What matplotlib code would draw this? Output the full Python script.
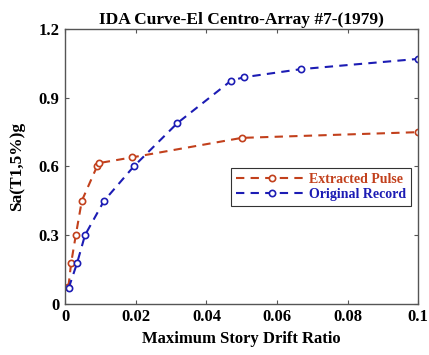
import matplotlib
matplotlib.use("Agg")
import matplotlib.pyplot as plt
from matplotlib.ticker import FixedLocator, FixedFormatter

# IDA points: maximum story drift ratio vs. Sa(T1,5%)
pulse_drift = [0.0009, 0.0017, 0.003, 0.0047, 0.009, 0.0096, 0.019, 0.050, 0.100]
pulse_sa = [0.075, 0.18, 0.30, 0.45, 0.60, 0.615, 0.64, 0.725, 0.75]

record_drift = [0.001, 0.0034, 0.0056, 0.011, 0.0194, 0.0318, 0.047, 0.0507, 0.0667, 0.100]
record_sa = [0.07, 0.18, 0.30, 0.45, 0.60, 0.79, 0.975, 0.99, 1.025, 1.07]

x_ticks = [0, 0.02, 0.04, 0.06, 0.08, 0.1]
x_labels = ["0", "0.02", "0.04", "0.06", "0.08", "0.1"]
y_ticks = [0, 0.3, 0.6, 0.9, 1.2]
y_labels = ["0", "0.3", "0.6", "0.9", "1.2"]

red = "#c2401c"
blue = "#1c1cb4"

plt.rcParams["font.family"] = ["Liberation Serif", "DejaVu Serif"]
plt.rcParams["font.weight"] = "bold"

fig = plt.figure(figsize=(4.29, 3.55), dpi=100)
ax = fig.add_axes([0.152, 0.144, 0.823, 0.774])

ax.plot(pulse_drift, pulse_sa, "--o", color=red, lw=1.5, ms=4.5,
        mfc="white", mew=1.2, dashes=(4, 3), label="Extracted Pulse")
ax.plot(record_drift, record_sa, "--o", color=blue, lw=1.5, ms=4.5,
        mfc="white", mew=1.2, dashes=(4, 3), label="Original Record")

ax.set_xlim(0, 0.1)
ax.set_ylim(0, 1.2)
ax.xaxis.set_major_locator(FixedLocator(x_ticks))
ax.xaxis.set_major_formatter(FixedFormatter(x_labels))
ax.yaxis.set_major_locator(FixedLocator(y_ticks))
ax.yaxis.set_major_formatter(FixedFormatter(y_labels))
ax.tick_params(direction="in", top=True, right=True, length=3,
               labelsize=12, pad=4, color="#555555")
for lbl in ax.get_xticklabels() + ax.get_yticklabels():
    lbl.set_fontweight("bold")
for sp in ax.spines.values():
    sp.set_color("#555555")
    sp.set_linewidth(1.0)

ax.set_title("IDA Curve-El Centro-Array #7-(1979)", fontsize=12.5,
             fontweight="bold", pad=4)
ax.set_xlabel("Maximum Story Drift Ratio", fontsize=12, fontweight="bold", labelpad=4)
ax.set_ylabel("Sa(T1,5%)g", fontsize=12.5, fontweight="bold", labelpad=10)

leg = ax.legend(loc="upper right", bbox_to_anchor=(0.98, 0.495),
                fontsize=10, frameon=True, fancybox=False, handlelength=5.2,
                handletextpad=0.1, borderpad=0.35, labelspacing=0.15,
                borderaxespad=0)
leg.get_frame().set_edgecolor("black")
leg.get_frame().set_linewidth(0.8)
for txt, c in zip(leg.get_texts(), [red, blue]):
    txt.set_color(c)
    txt.set_fontweight("bold")

fig.savefig("out.png", dpi=100)
